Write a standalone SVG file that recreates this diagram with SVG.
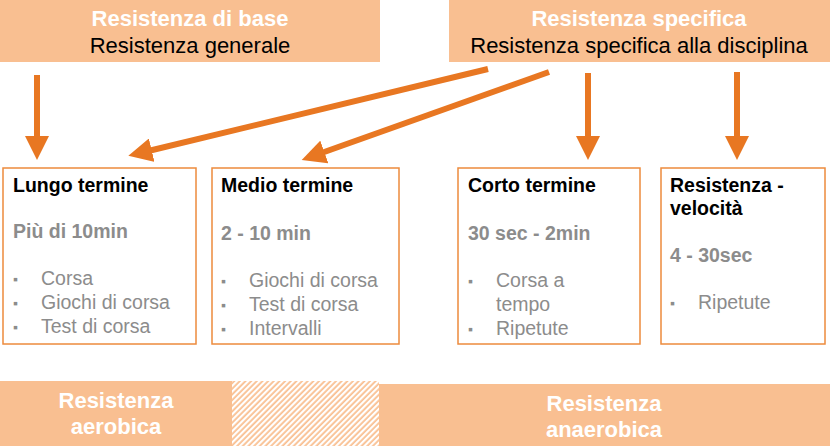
<svg xmlns="http://www.w3.org/2000/svg" width="830" height="446" viewBox="0 0 830 446">
<style>
.ban{fill:#F9BF91}
.box{fill:#fff;stroke:#ED8B3D;stroke-width:1.5}
text{font-family:"Liberation Sans",Arial,sans-serif}
.wt{fill:#fff;font-weight:bold;font-size:22px}
.bt{fill:#000;font-size:22px}
.h{font-weight:bold;font-size:19.5px;fill:#000}
.s{font-weight:bold;font-size:19.5px;fill:#8C8C8C}
.l{font-size:19.5px;fill:#8C8C8C}
.b{font-size:14px;fill:#8C8C8C}
.arr{stroke:#E87722;stroke-width:6;fill:none;marker-end:url(#ah)}
</style>
<defs>
<marker id="ah" markerWidth="4" markerHeight="4" refX="2" refY="2" orient="auto" markerUnits="strokeWidth"><path d="M0,0L4,2L0,4z" fill="#E87722"/></marker>
<pattern id="hat" width="4" height="4" patternUnits="userSpaceOnUse" patternTransform="rotate(45)"><rect width="4" height="4" fill="#F9BF91"/><rect width="2.2" height="4" fill="#fff"/></pattern>
</defs>
<g id="base"><rect class="ban" x="0" y="0" width="380" height="62"/><text class="wt" x="190" y="26" text-anchor="middle">Resistenza di base</text><text class="bt" x="190" y="53" text-anchor="middle">Resistenza generale</text></g>
<g id="spec"><rect class="ban" x="449" y="0" width="381" height="62"/><text class="wt" x="639" y="26" text-anchor="middle">Resistenza specifica</text><text class="bt" x="639" y="53" text-anchor="middle">Resistenza specifica alla disciplina</text></g>
<g id="connectors">
<line class="arr" x1="37" y1="75" x2="37" y2="148"/>
<line class="arr" x1="488" y1="69" x2="140" y2="153"/>
<line class="arr" x1="549" y1="72" x2="313" y2="156"/>
<line class="arr" x1="588" y1="73" x2="588" y2="148"/>
<line class="arr" x1="737" y1="72" x2="737" y2="148"/>
</g>
<g id="lungo"><rect class="box" x="3" y="168" width="193" height="176"/>
<text class="h" x="13" y="192">Lungo termine</text><text class="s" x="13" y="238">Più di 10min</text>
<text class="b" x="13" y="284">▪</text><text class="l" x="41" y="285">Corsa</text>
<text class="b" x="13" y="308">▪</text><text class="l" x="41" y="309">Giochi di corsa</text>
<text class="b" x="13" y="332">▪</text><text class="l" x="41" y="333">Test di corsa</text></g>
<g id="medio"><rect class="box" x="212" y="168" width="187" height="176"/>
<text class="h" x="221" y="192">Medio termine</text><text class="s" x="221" y="240">2 - 10 min</text>
<text class="b" x="221" y="286">▪</text><text class="l" x="249" y="287">Giochi di corsa</text>
<text class="b" x="221" y="310">▪</text><text class="l" x="249" y="311">Test di corsa</text>
<text class="b" x="221" y="334">▪</text><text class="l" x="249" y="335">Intervalli</text></g>
<g id="corto"><rect class="box" x="458" y="168" width="182" height="176"/>
<text class="h" x="468" y="192">Corto termine</text><text class="s" x="468" y="240">30 sec - 2min</text>
<text class="b" x="468" y="286">▪</text><text class="l" x="496" y="287">Corsa a</text>
<text class="l" x="496" y="311">tempo</text>
<text class="b" x="468" y="334">▪</text><text class="l" x="496" y="335">Ripetute</text></g>
<g id="vel"><rect class="box" x="661" y="168" width="164" height="176"/>
<text class="h" x="670" y="192">Resistenza -</text><text class="h" x="670" y="215">velocità</text><text class="s" x="670" y="262">4 - 30sec</text>
<text class="b" x="670" y="308">▪</text><text class="l" x="698" y="309">Ripetute</text></g>
<g id="aerobica"><rect class="ban" x="0" y="381" width="232" height="65"/><rect x="232" y="381" width="147" height="65" fill="url(#hat)"/>
<text class="wt" x="116" y="408" text-anchor="middle">Resistenza</text><text class="wt" x="116" y="434" text-anchor="middle">aerobica</text></g>
<g id="anaerobica"><rect class="ban" x="379" y="384" width="451" height="62"/>
<text class="wt" x="604" y="411" text-anchor="middle">Resistenza</text><text class="wt" x="604" y="437" text-anchor="middle">anaerobica</text></g>
</svg>
